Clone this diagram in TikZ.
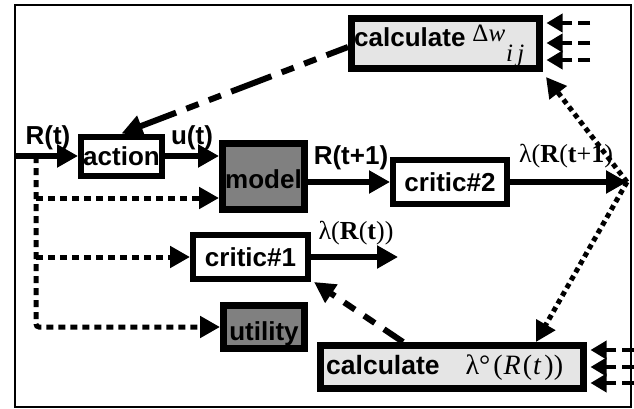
\documentclass[tikz,border=0pt]{standalone}
\usepackage{fontspec}
\setmainfont{Liberation Sans}
\newfontfamily\serifface{Liberation Serif}
\usetikzlibrary{arrows.meta}

\begin{document}
\begin{tikzpicture}[x=1pt,y=-1pt,
  blk/.style={draw=black, line width=6pt, inner sep=0pt, font=\bfseries\fontsize{26}{30}\selectfont},
  calcbox/.style={blk, line width=7pt, fill=black!10},
  darkbox/.style={blk, line width=7pt, fill=black!50},
  lightbox/.style={blk, fill=white},
  sig/.style={line width=6.5pt, -{Triangle[length=21pt,width=22pt]}},
  dashsig/.style={line width=6pt, dash pattern=on 43pt off 11pt on 13pt off 11pt on 13pt off 11pt, dash phase=20pt, -{Triangle[length=21pt,width=21pt]}},
  dotsig/.style={line width=5pt, dash pattern=on 7pt off 5pt, -{Triangle[length=20pt,width=21pt]}},
  finedot/.style={line width=5pt, dash pattern=on 5pt off 4pt, -{Triangle[length=20pt,width=21pt]}},
  feed/.style={line width=3.5pt, dash pattern=on 12pt off 6pt, -{Triangle[length=16pt,width=18pt]}},
  lbl/.style={font=\bfseries\fontsize{26}{30}\selectfont, inner sep=0pt},
  mlbl/.style={font=\serifface\fontsize{26}{30}\selectfont, inner sep=0pt},
]
\useasboundingbox (0,0) rectangle (634,409);
% outer frame
\draw[line width=2.5pt] (15,5) rectangle (631,407);

% blocks
\node[calcbox, minimum width=188pt, minimum height=50pt] (dw) at (445.5,43.5) {};
\node[lbl, anchor=base west] (dwtext) at (354,47)
  {calculate\hspace{7pt}{\serifface\mdseries\fontsize{25}{25}\selectfont\raisebox{5pt}{Δ\textit{w}}\hspace{1pt}\raisebox{-15pt}{\textit{i\,j}}}};
\node[calcbox, minimum width=263pt, minimum height=43pt] (lam) at (452,367) {};
\node[lbl, anchor=base west, font=\bfseries\fontsize{26.5}{30}\selectfont] (lamtext) at (326,374)
  {calculate\hspace{26pt}{\serifface\mdseries\fontsize{28}{28}\selectfont λ°\hspace{3pt}(\hspace{1pt}\textit{R}\hspace{2pt}(\hspace{1pt}\textit{t}\hspace{3pt}))}};
\node[lightbox, minimum width=81pt, minimum height=39pt] (act) at (121.5,156) {action};
\node[darkbox, minimum width=82pt, minimum height=66pt] (mdl) at (263.5,176.5) {};
\node[lbl] (mdltext) at (263.5,179) {model};
\node[lightbox, minimum width=114pt, minimum height=44pt] (cr2) at (450,182) {critic\#2};
\node[lightbox, minimum width=115pt, minimum height=44pt] (cr1) at (250.5,257) {critic\#1};
\node[darkbox, minimum width=81pt, minimum height=43pt] (utl) at (264,327) {};
\node[lbl] (utltext) at (264,334) {utility};

% forward signal path
\coordinate (in) at (15,156);
\draw[sig] (in) -- (act.west);
\node[lbl] (rt) at (48,138) {R(t)};
\draw[sig] (act.east) -- (act.east -| mdl.west);
\node[lbl] (ut) at (192,138) {u(t)};
\draw[sig] (mdl.east |- cr2.west) -- (cr2.west);
\node[lbl] (rt1) at (351,158) {R(t+1)};
\coordinate (fork) at (627,182);
\draw[sig] (cr2.east) -- (fork);
\node[mlbl] (lam2) at (566,156) {λ(\textbf{R}(\textbf{t}+\textbf{1})};
\coordinate (c1out) at (398,257);
\draw[sig] (cr1.east) -- (c1out);
\node[mlbl] (lam1) at (356,233) {λ(\textbf{R}(\textbf{t}))};

% derivative feedback from critic#2
\draw[finedot] (fork) -- ([shift={(3,5)}]dw.south east);
\draw[finedot] (fork) -- (lam.north -| 536,0);

% weight update and target signals
\draw[dashsig] (dw.west |- 0,47) -- (act.north);
\draw[dashsig] (lam.north -| 403,0) -- ([shift={(3,0)}]cr1.south east);

% state taps on the left
\coordinate (tap) at (36,156);
\coordinate (tapm) at (36,198);
\coordinate (tapc) at (36,257);
\draw[dotsig, rounded corners=3pt] (tap) |- (utl.west);
\draw[dotsig] (tapm) -- (mdl.west |- tapm);
\draw[dotsig] (tapc) -- (cr1.west);

% external inputs to the calculation blocks
\foreach \yy in {23,43,60}
  \draw[feed] (590,\yy) -- ([xshift=3.5pt]dw.east |- 0,\yy);
\foreach \yy in {350,367,383}
  \draw[feed] (634,\yy) -- ([xshift=3.5pt]lam.east |- 0,\yy);
\end{tikzpicture}
\end{document}
